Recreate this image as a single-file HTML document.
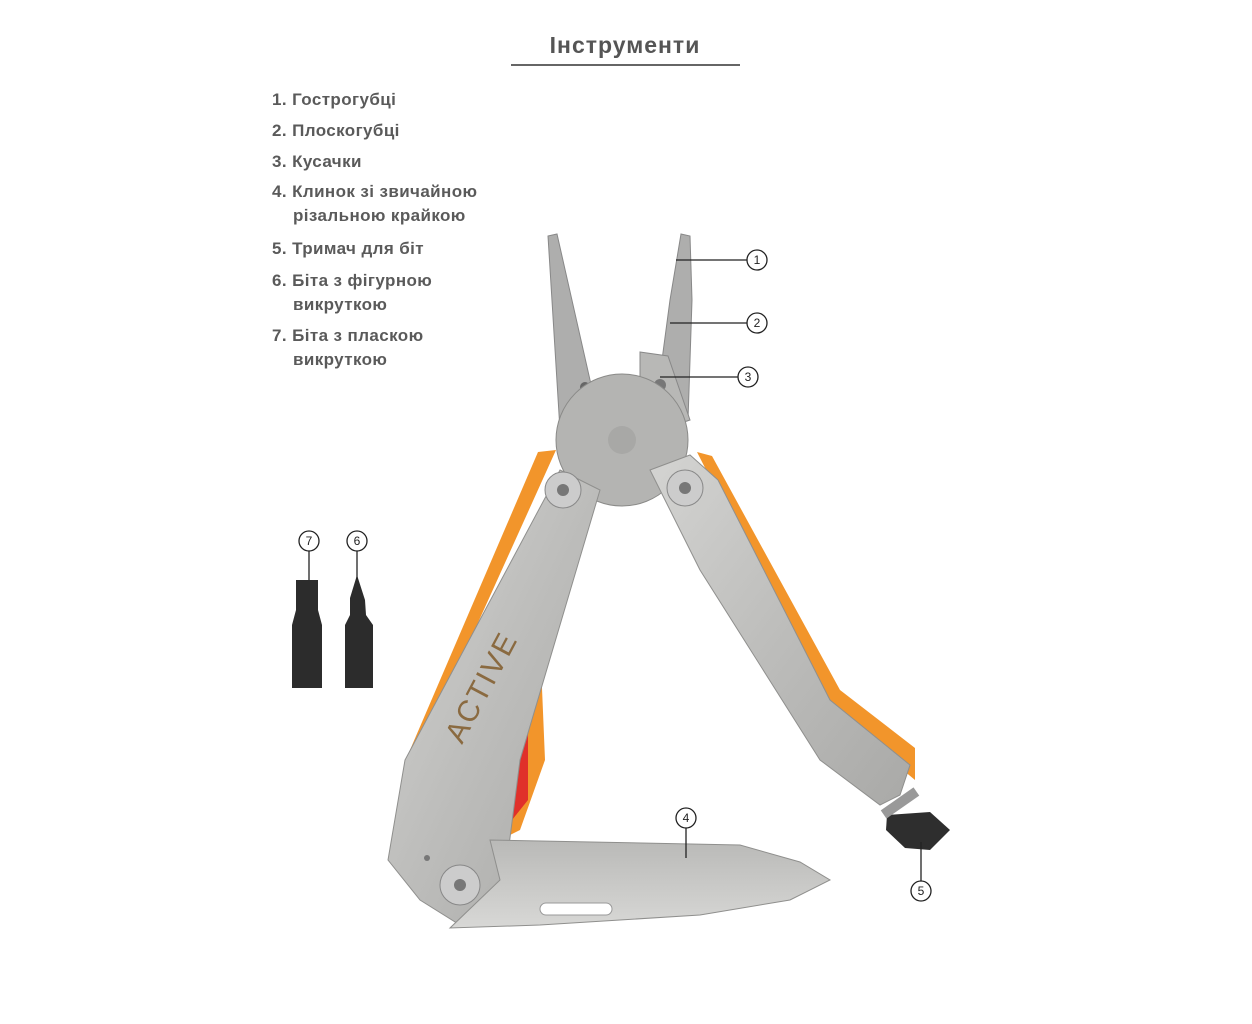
<!DOCTYPE html>
<html><head><meta charset="utf-8"><style>
html,body{margin:0;padding:0;background:#fff;width:1252px;height:1024px;overflow:hidden}
svg{display:block}
text{font-family:"Liberation Sans","DejaVu Sans",sans-serif}
</style></head><body>
<svg width="1252" height="1024" viewBox="0 0 1252 1024" xmlns="http://www.w3.org/2000/svg">
<defs>
<linearGradient id="steel" x1="0" y1="0" x2="1" y2="1">
<stop offset="0" stop-color="#d4d4d2"/><stop offset="0.5" stop-color="#bdbdbb"/><stop offset="1" stop-color="#a9a9a7"/></linearGradient>
<linearGradient id="blade" x1="0" y1="0" x2="0" y2="1">
<stop offset="0" stop-color="#b9b9b7"/><stop offset="1" stop-color="#d8d8d6"/></linearGradient>
</defs>
<text x="625" y="53" text-anchor="middle" font-size="23" font-weight="bold" fill="#555" letter-spacing="1">Інструменти</text>
<line x1="511" y1="65" x2="740" y2="65" stroke="#333" stroke-width="1.5"/>
<g font-size="17" font-weight="bold" fill="#5a5a5a" letter-spacing="0.4">
<text x="272" y="105">1. Гострогубці</text>
<text x="272" y="136">2. Плоскогубці</text>
<text x="272" y="167">3. Кусачки</text>
<text x="272" y="197">4. Клинок зі звичайною</text>
<text x="293" y="221">різальною крайкою</text>
<text x="272" y="254">5. Тримач для біт</text>
<text x="272" y="286">6. Біта з фігурною</text>
<text x="293" y="310">викруткою</text>
<text x="272" y="341">7. Біта з пласкою</text>
<text x="293" y="365">викруткою</text>
</g>
<!-- jaws -->
<path d="M548,236 L557,234 L590,380 L600,420 L560,430 Z" fill="#aeaead" stroke="#888" stroke-width="1"/>
<path d="M681,234 L690,236 L692,300 L688,420 L650,420 L662,360 L670,300 Z" fill="#aeaead" stroke="#888" stroke-width="1"/>
<path d="M640,352 L668,356 L690,420 L660,430 L640,390 Z" fill="#b8b8b6" stroke="#888"/>
<circle cx="585" cy="387" r="5" fill="#666"/><circle cx="660" cy="385" r="6" fill="#777"/>
<circle cx="622" cy="440" r="66" fill="#b4b4b2" stroke="#8a8a88"/>
<circle cx="622" cy="440" r="14" fill="#a8a8a6"/>
<!-- left handle -->
<path d="M538,452 L556,450 L425,740 L410,750 Z" fill="#f2952b"/>
<path d="M505,660 L540,640 L545,760 L520,830 L500,840 Z" fill="#f2952b"/>
<path d="M508,700 L528,670 L528,800 L508,825 Z" fill="#e0302a"/>
<path d="M560,470 L600,490 L520,760 L502,900 L460,925 L420,900 L388,860 L405,760 Z" fill="url(#steel)" stroke="#8f8f8d"/>
<text x="462" y="745" font-size="30" fill="#8a6a40" transform="rotate(-62 462 745)" letter-spacing="2">ACTIVE</text>
<circle cx="563" cy="490" r="18" fill="#ccc" stroke="#888"/><circle cx="563" cy="490" r="6" fill="#777"/>
<circle cx="460" cy="885" r="20" fill="#ccc" stroke="#888"/><circle cx="460" cy="885" r="6" fill="#777"/>
<circle cx="427" cy="858" r="3" fill="#777"/>
<!-- right handle -->
<path d="M697,452 L712,456 L840,690 L915,748 L915,780 L825,705 Z" fill="#f2952b"/>
<path d="M650,470 L690,455 L718,480 L830,700 L910,765 L900,795 L880,805 L820,760 L700,570 Z" fill="url(#steel)" stroke="#8f8f8d"/>
<circle cx="685" cy="488" r="18" fill="#ccc" stroke="#888"/><circle cx="685" cy="488" r="6" fill="#777"/>
<path d="M887,815 L930,812 L950,830 L930,850 L905,848 L886,830 Z" fill="#2e2e2e"/>
<rect x="880" y="798" width="40" height="10" fill="#999" transform="rotate(-35 900 803)"/>
<!-- blade -->
<path d="M490,840 L740,845 L800,862 L830,880 L790,900 L700,915 L540,925 L450,928 L500,880 Z" fill="url(#blade)" stroke="#8f8f8d"/>
<rect x="540" y="903" width="72" height="12" rx="6" fill="#fff" stroke="#999"/>
<!-- bits -->
<path d="M296,580 L318,580 L318,610 L322,625 L322,688 L292,688 L292,625 L296,610 Z" fill="#2c2c2c"/>
<path d="M357,575 L365,600 L366,615 L373,625 L373,688 L345,688 L345,625 L350,615 L350,598 Z" fill="#2c2c2c"/>
<!-- callouts -->
<g stroke="#222" stroke-width="1.3" fill="#fff">
<line x1="676" y1="260" x2="747" y2="260"/><circle cx="757" cy="260" r="10"/>
<line x1="670" y1="323" x2="747" y2="323"/><circle cx="757" cy="323" r="10"/>
<line x1="660" y1="377" x2="738" y2="377"/><circle cx="748" cy="377" r="10"/>
<line x1="686" y1="828" x2="686" y2="858"/><circle cx="686" cy="818" r="10"/>
<line x1="921" y1="842" x2="921" y2="881"/><circle cx="921" cy="891" r="10"/>
<line x1="309" y1="551" x2="309" y2="580"/><circle cx="309" cy="541" r="10"/>
<line x1="357" y1="551" x2="357" y2="580"/><circle cx="357" cy="541" r="10"/>
</g>
<g font-size="12" fill="#222" text-anchor="middle">
<text x="757" y="264">1</text><text x="757" y="327">2</text><text x="748" y="381">3</text>
<text x="686" y="822">4</text><text x="921" y="895">5</text><text x="357" y="545">6</text><text x="309" y="545">7</text>
</g>
</svg>
</body></html>
